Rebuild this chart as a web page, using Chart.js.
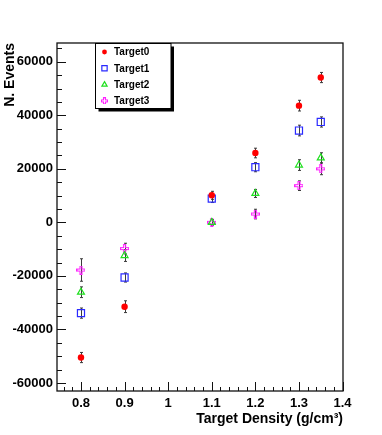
<!DOCTYPE html>
<html>
<head>
<meta charset="utf-8">
<script src="https://cdn.jsdelivr.net/npm/chart.js@4.4.0/dist/chart.umd.min.js"></script>
<style>
html, body { margin: 0; padding: 0; background: #fff; }
#wrap { width: 382px; height: 435px; }
</style>
</head>
<body>
<div id="wrap"><canvas id="canvas" width="382" height="435"></canvas></div>
<script>
// target densities (g/cm3)
var densities = [0.8, 0.9, 1.1, 1.2, 1.3, 1.35];

// N. events per target
var target0 = [-50500, -31500, 10100, 25900, 43600, 54100];
var target1 = [-33900, -20600, 8900, 20600, 34300, 37500];
var target2 = [-26100, -12400, 0, 10800, 21400, 24100];
var target3 = [-17800, -9800, 0, 3100, 13700, 20000];

// symmetric errors
var target0Err = [1900, 2200, 1500, 1800, 2000, 1900];
var target1Err = [1900, 1700, 1500, 1700, 2000, 1900];
var target2Err = [2000, 2200, 1000, 1500, 2000, 1900];
var target3Err = [4200, 2000, 1000, 1800, 1800, 2200];

var seriesNames = ['Target0', 'Target1', 'Target2', 'Target3'];
var xTicks = [0.8, 0.9, 1.0, 1.1, 1.2, 1.3, 1.4];
var yTicks = [-60000, -40000, -20000, 0, 20000, 40000, 60000];

var allValues = [target0, target1, target2, target3];
var allErrors = [target0Err, target1Err, target2Err, target3Err];

function toPoints(values) {
    return values.map(function(v, i) { return {x: densities[i], y: v}; });
}

// ROOT style open cross marker
function openCross(color, s) {
    var c = document.createElement('canvas');
    c.width = s; c.height = s;
    var g = c.getContext('2d');
    var a = Math.round(s * 0.34) + 0.5, b = s - a, e = 0.5, f = s - 0.5;
    g.strokeStyle = color;
    g.lineWidth = 1.1;
    g.beginPath();
    g.moveTo(a, e); g.lineTo(b, e); g.lineTo(b, a); g.lineTo(f, a);
    g.lineTo(f, b); g.lineTo(b, b); g.lineTo(b, f); g.lineTo(a, f);
    g.lineTo(a, b); g.lineTo(e, b); g.lineTo(e, a); g.lineTo(a, a);
    g.closePath();
    g.stroke();
    return c;
}

var styles = [
    {color: '#ff0000', pointStyle: 'circle', radius: 3.2, fill: '#ff0000', bw: 0},
    {color: '#2a2aff', pointStyle: 'rect', radius: 5, fill: 'rgba(0,0,0,0)', bw: 1.2},
    {color: '#1fe01f', pointStyle: 'triangle', radius: 4, fill: 'rgba(0,0,0,0)', bw: 1.2},
    {color: '#ff22ff', pointStyle: openCross('#ff22ff', 9), radius: 4, fill: 'rgba(0,0,0,0)', bw: 0}
];

var datasets = allValues.map(function(vals, i) {
    var st = styles[i];
    return {
        label: seriesNames[i],
        data: toPoints(vals),
        pointStyle: st.pointStyle,
        pointRadius: st.radius,
        pointHoverRadius: st.radius,
        pointBackgroundColor: st.fill,
        pointBorderColor: st.color,
        pointBorderWidth: st.bw,
        showLine: false
    };
});

var errorBars = {
    id: 'errorBars',
    beforeDatasetsDraw: function(chart) {
        var ctx = chart.ctx, xs = chart.scales.x, ys = chart.scales.y;
        ctx.save();
        ctx.strokeStyle = '#3a3a3a';
        ctx.lineWidth = 1;
        chart.data.datasets.forEach(function(ds, i) {
            var errs = allErrors[i];
            ds.data.forEach(function(p, j) {
                var px = Math.round(xs.getPixelForValue(p.x)) + 0.5;
                var top = ys.getPixelForValue(p.y + errs[j]);
                var bot = ys.getPixelForValue(p.y - errs[j]);
                ctx.beginPath();
                ctx.moveTo(px, top); ctx.lineTo(px, bot);
                ctx.moveTo(px - 1.5, top); ctx.lineTo(px + 1.5, top);
                ctx.moveTo(px - 1.5, bot); ctx.lineTo(px + 1.5, bot);
                ctx.stroke();
            });
        });
        ctx.restore();
    }
};

var frameAndTicks = {
    id: 'frameAndTicks',
    afterDraw: function(chart) {
        var ctx = chart.ctx, a = chart.chartArea;
        var xs = chart.scales.x, ys = chart.scales.y;
        ctx.save();
        ctx.strokeStyle = '#111';
        ctx.lineWidth = 1;
        ctx.beginPath();
        // y ticks: major every 20000, minor every 5000
        for (var k = Math.ceil(ys.min / 5000); k <= Math.floor(ys.max / 5000); k++) {
            var py = Math.round(ys.getPixelForValue(k * 5000)) + 0.5;
            var len = (k % 4 === 0) ? 9 : 5;
            ctx.moveTo(a.left, py); ctx.lineTo(a.left + len, py);
        }
        // x ticks: major every 0.1, minor every 0.02
        for (var m = Math.ceil(xs.min / 0.02 - 1e-6); m <= Math.floor(xs.max / 0.02 + 1e-6); m++) {
            var px = Math.round(xs.getPixelForValue(m * 0.02)) + 0.5;
            var l2 = (m % 5 === 0) ? 9 : 4;
            ctx.moveTo(px, a.bottom); ctx.lineTo(px, a.bottom - l2);
        }
        ctx.stroke();
        ctx.lineWidth = 1.3;
        ctx.strokeRect(a.left, a.top, a.right - a.left, a.bottom - a.top);
        ctx.restore();
    }
};

var boxLegend = {
    id: 'boxLegend',
    afterDraw: function(chart) {
        var ctx = chart.ctx;
        var bx = 95.5, by = 43.5, bw = 75.5, bh = 65;
        ctx.save();
        ctx.fillStyle = '#000';
        ctx.fillRect(bx + 3, by + 3, bw, bh);
        ctx.fillStyle = '#fff';
        ctx.fillRect(bx, by, bw, bh);
        ctx.strokeStyle = '#000';
        ctx.lineWidth = 1;
        ctx.strokeRect(bx, by, bw, bh);
        ctx.font = 'bold 10px "Liberation Sans", Arial, sans-serif';
        ctx.textBaseline = 'middle';
        chart.data.datasets.forEach(function(ds, i) {
            var yy = by + 8.5 + i * 16.3;
            var st = styles[i];
            ctx.fillStyle = st.fill;
            ctx.strokeStyle = st.color;
            ctx.lineWidth = st.bw;
            if (typeof st.pointStyle === 'string') {
                Chart.helpers.drawPoint(ctx, {pointStyle: st.pointStyle, radius: st.radius * 0.75, rotation: 0, borderWidth: st.bw}, bx + 9, yy);
            } else {
                ctx.drawImage(openCross(st.color, 7), bx + 9 - 3.5, yy - 3.5);
            }
            ctx.fillStyle = '#000';
            ctx.fillText(ds.label, bx + 18.5, yy + 0.5);
        });
        ctx.restore();
    }
};

Chart.defaults.font.family = '"Liberation Sans", Arial, sans-serif';
Chart.defaults.color = '#000';

var ctx = document.getElementById('canvas').getContext('2d');
new Chart(ctx, {
    type: 'scatter',
    data: {datasets: datasets},
    options: {
        responsive: false,
        animation: false,
        events: [],
        layout: {padding: {top: 43, right: 39, left: 0, bottom: 0}},
        plugins: {legend: {display: false}, tooltip: {enabled: false}},
        scales: {
            x: {
                type: 'linear',
                min: 0.745,
                max: 1.401,
                afterBuildTicks: function(scale) {
                    scale.ticks = xTicks.map(function(v) { return {value: v}; });
                },
                afterFit: function(scale) { scale.height = 44; },
                grid: {display: false, drawTicks: false},
                border: {display: false},
                ticks: {
                    autoSkip: false,
                    maxRotation: 0,
                    padding: 5,
                    font: {size: 13, weight: 'bold'},
                    callback: function(v) { return String(Math.round(v * 100) / 100); }
                },
                title: {
                    display: true,
                    text: 'Target Density (g/cm\u00b3)',
                    align: 'end',
                    padding: {top: 0, bottom: 7},
                    font: {size: 14, weight: 'bold'}
                }
            },
            y: {
                type: 'linear',
                min: -63000,
                max: 67000,
                afterBuildTicks: function(scale) {
                    scale.ticks = yTicks.map(function(v) { return {value: v}; });
                },
                afterFit: function(scale) { scale.width = 57; },
                grid: {display: false, drawTicks: false},
                border: {display: false},
                ticks: {
                    padding: 4,
                    font: {size: 13, weight: 'bold'},
                    callback: function(v) { return String(v); }
                },
                title: {
                    display: true,
                    text: 'N. Events',
                    align: 'end',
                    padding: {top: 2, bottom: 0},
                    font: {size: 14, weight: 'bold'}
                }
            }
        }
    },
    plugins: [errorBars, frameAndTicks, boxLegend]
});
</script>
</body>
</html>
